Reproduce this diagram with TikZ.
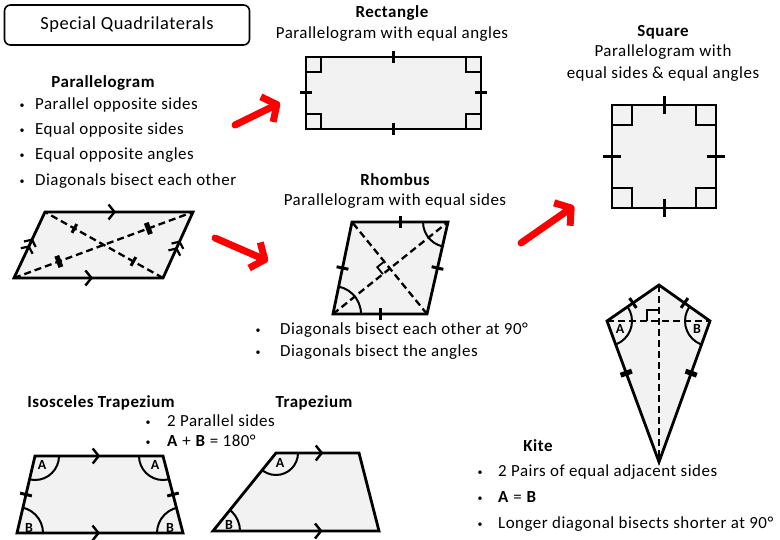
\documentclass[tikz,border=0pt]{standalone}
\usepackage{fontspec}
\setmainfont{Carlito}[LetterSpace=3]
\usetikzlibrary{arrows.meta,calc,decorations.markings}

\begin{document}
\begin{tikzpicture}[x=1bp, y=-1bp,
    txt/.style={font=\fontsize{17}{20}\selectfont, inner sep=0pt, anchor=base},
    head/.style={txt, font=\fontsize{17}{20}\selectfont\bfseries},
    bulletline/.style={txt, anchor=base west,
                       execute at begin node={\makebox[#1][l]{\raisebox{1bp}{\fontsize{10}{12}\selectfont\textbullet}}}},
    bulletline/.default=16bp,
    quad/.style={draw, line width=2.8bp, fill=black!5, line join=miter},
    diag/.style={line width=2.3bp, dash pattern=on 7bp off 4bp},
    arcline/.style={line width=2bp},
    rightang/.style={line width=2.4bp},
    lbl/.style={font=\fontsize{14}{16}\selectfont\bfseries, inner sep=0pt},
    tickmark/.style={postaction={decorate, decoration={markings,
        mark=at position .5 with {\draw[line width=3bp] (0,-#1) -- (0,#1);}}}},
    tickmark/.default=6bp,
    dbltick/.style={postaction={decorate, decoration={markings,
        mark=at position #1 with {\draw[line width=2.4bp]
          (-1.3bp,-6bp) -- (-1.3bp,6bp) (1.3bp,-6bp) -- (1.3bp,6bp);}}}},
    dbltick/.default=.5,
    parmark/.style={postaction={decorate, decoration={markings,
        mark=at position #1 with {\arrow[line width=2.4bp]{Straight Barb[length=6bp,width=15bp]}}}}},
    dblpar/.style={postaction={decorate, decoration={markings,
        mark=at position #1 with {\arrow[line width=2.2bp]{Straight Barb[length=5bp,width=13bp]Straight Barb[length=5bp,width=13bp]}}}}},
    redarrow/.style={draw=red, line width=7bp, line cap=round,
                     -{Straight Barb[length=11bp,width=28bp,line join=round]}}
  ]
  \useasboundingbox (0,0) rectangle (780,540);

  % title
  \node[draw, rounded corners=6bp, line width=1.6bp, minimum width=245bp,
        minimum height=40bp, font=\fontsize{18.5}{22}\selectfont] (title) at (127,25)
        {Special Quadrilaterals};

  % parallelogram
  \node[head] (parhead) at (103,88) {Parallelogram};
  \node[bulletline=15.5bp] (par1) at (19.5,110) {Parallel opposite sides};
  \node[bulletline=15.5bp] (par2) at (19.5,135) {Equal opposite sides};
  \node[bulletline=15.5bp] (par3) at (19.5,160) {Equal opposite angles};
  \node[bulletline=15.5bp] (par4) at (19.5,186) {Diagonals bisect each other};

  \coordinate (pA) at (14,278);
  \coordinate (pB) at (163,278);
  \coordinate (pC) at (193,212);
  \coordinate (pD) at (45,212);
  \draw[quad] (pA) -- (pB) -- (pC) -- (pD) -- cycle;
  \coordinate (pO) at (intersection of pA--pC and pB--pD);
  \draw[diag] (pA) -- (pC) (pB) -- (pD);
  \path[tickmark=5bp] (pD) -- (pO);
  \path[tickmark=5bp] (pO) -- (pB);
  \path[dbltick] (pA) -- (pO);
  \path[dbltick] (pO) -- (pC);
  \path[parmark=.48] (pD) -- (pC);
  \path[parmark=.53] (pA) -- (pB);
  \path[dblpar=.6] (pA) -- (pD);
  \path[dblpar=.57] (pB) -- (pC);

  % rectangle
  \node[head] (recthead) at (392,18) {Rectangle};
  \node[txt] (recttext) at (392,39) {Parallelogram with equal angles};
  \coordinate (rA) at (306,57);
  \coordinate (rB) at (481,57);
  \coordinate (rC) at (481,129);
  \coordinate (rD) at (306,129);
  \draw[quad] (rA) rectangle (rC);
  \foreach \c/\dx/\dy in {rA/15/15, rB/-15/15, rC/-15/-15, rD/15/-15}
    \draw[rightang] ($(\c)+(\dx,0)$) |- ($(\c)+(0,\dy)$);
  \foreach \a/\b in {rA/rB, rB/rC, rC/rD, rD/rA}
    \path[tickmark] (\a) -- (\b);

  % square
  \node[head] (sqhead) at (663,37) {Square};
  \node[txt] (sqtext1) at (663,57) {Parallelogram with};
  \node[txt] (sqtext2) at (663,79) {equal sides \& equal angles};
  \coordinate (sA) at (612,105);
  \coordinate (sB) at (716,105);
  \coordinate (sC) at (716,208);
  \coordinate (sD) at (612,208);
  \draw[quad] (sA) rectangle (sC);
  \foreach \c/\dx/\dy in {sA/20/20, sB/-20/20, sC/-20/-20, sD/20/-20}
    \draw[rightang] ($(\c)+(\dx,0)$) |- ($(\c)+(0,\dy)$);
  \foreach \a/\b in {sA/sB, sB/sC, sC/sD, sD/sA}
    \path[tickmark=9bp] (\a) -- (\b);

  % rhombus
  \node[head] (rhhead) at (395,186) {Rhombus};
  \node[txt] (rhtext) at (395,206) {Parallelogram with equal sides};
  \node[bulletline=24.5bp] (rh1) at (255.5,334) {Diagonals bisect each other at 90°};
  \node[bulletline=24.5bp] (rh2) at (255.5,356) {Diagonals bisect the angles};
  \coordinate (hA) at (333,314);
  \coordinate (hB) at (427,314);
  \coordinate (hC) at (448,222);
  \coordinate (hD) at (352,222);
  \draw[quad] (hA) -- (hB) -- (hC) -- (hD) -- cycle;
  \begin{scope}
    \clip (hA) -- (hB) -- (hC) -- (hD) -- cycle;
    \draw[arcline] (hA) circle[radius=28bp] (hC) circle[radius=25bp];
  \end{scope}
  \draw[diag] (hA) -- (hC) (hB) -- (hD);
  \coordinate (hO) at (intersection of hA--hC and hB--hD);
  \coordinate (h1) at ($(hO)!9bp!(hD)$);
  \coordinate (h2) at ($(hO)!9bp!(hA)$);
  \draw[line width=1.8bp] (h1) -- ($(h1)+(h2)-(hO)$) -- (h2);
  \foreach \a/\b in {hA/hB, hB/hC, hC/hD, hD/hA}
    \path[tickmark] (\a) -- (\b);

  % kite
  \node[head] (kitehead) at (538,451) {Kite};
  \node[bulletline=20.5bp] (kite1) at (477.5,476) {2 Pairs of equal adjacent sides};
  \node[bulletline=20.5bp] (kite2) at (477.5,502) {\textbf{A} = \textbf{B}};
  \node[bulletline=20.5bp] (kite3) at (477.5,528) {Longer diagonal bisects shorter at 90°};
  \coordinate (kT) at (659,285);
  \coordinate (kL) at (607,321);
  \coordinate (kR) at (710,321);
  \coordinate (kB) at (659,462);
  \draw[quad] (kT) -- (kR) -- (kB) -- (kL) -- cycle;
  \begin{scope}
    \clip (kT) -- (kR) -- (kB) -- (kL) -- cycle;
    \draw[arcline] (kL) circle[radius=25bp] (kR) circle[radius=25bp];
  \end{scope}
  \draw[diag] (kT) -- (kB) (kL) -- (kR);
  \coordinate (kO) at (intersection of kT--kB and kL--kR);
  \draw[line width=1.8bp] ($(kO)+(-12,0)$) |- ($(kO)+(0,-11)$);
  \path[tickmark] (kL) -- (kT);
  \path[tickmark] (kT) -- (kR);
  \path[dbltick=.37] (kL) -- (kB);
  \path[dbltick=.37] (kR) -- (kB);
  \node[lbl] (kA) at (620,329) {A};
  \node[lbl] (kBl) at (697,329) {B};

  % isosceles trapezium
  \node[head] (isohead) at (101,407) {Isosceles Trapezium};
  \node[head] (traphead) at (314,407) {Trapezium};
  \node[bulletline=21.5bp] (iso1) at (145.5,426) {2 Parallel sides};
  \node[bulletline=21.5bp] (iso2) at (145.5,446) {\textbf{A} + \textbf{B} = 180°};
  \coordinate (tA) at (17,533);
  \coordinate (tB) at (183,533);
  \coordinate (tC) at (163,456);
  \coordinate (tD) at (35,456);
  \draw[quad] (tA) -- (tB) -- (tC) -- (tD) -- cycle;
  \begin{scope}
    \clip (tA) -- (tB) -- (tC) -- (tD) -- cycle;
    \draw[arcline] (tA) circle[radius=26bp] (tB) circle[radius=26bp]
                   (tC) circle[radius=24bp] (tD) circle[radius=24bp];
  \end{scope}
  \path[tickmark] (tA) -- (tD);
  \path[tickmark] (tB) -- (tC);
  \path[parmark=.51] (tD) -- (tC);
  \path[parmark=.5] (tA) -- (tB);
  \node[lbl] (tAlbl) at (42,465) {A};
  \node[lbl] (tBlbl) at (155,465) {A};
  \node[lbl] (tClbl) at (29,528) {B};
  \node[lbl] (tDlbl) at (170,528) {B};

  % trapezium
  \coordinate (zA) at (213,531);
  \coordinate (zB) at (379,531);
  \coordinate (zC) at (359,453);
  \coordinate (zD) at (276,453);
  \draw[quad] (zA) -- (zB) -- (zC) -- (zD) -- cycle;
  \begin{scope}
    \clip (zA) -- (zB) -- (zC) -- (zD) -- cycle;
    \draw[arcline] (zD) circle[radius=22bp] (zA) circle[radius=27bp];
  \end{scope}
  \path[parmark=.57] (zD) -- (zC);
  \path[parmark=.66] (zA) -- (zB);
  \node[lbl] (zAlbl) at (280,463) {A};
  \node[lbl] (zBlbl) at (229,525) {B};

  % red arrows
  \coordinate (ar1s) at (235,125);
  \coordinate (ar1e) at (280,103);
  \coordinate (ar2s) at (215,238);
  \coordinate (ar2e) at (268,261);
  \coordinate (ar3s) at (521,243);
  \coordinate (ar3e) at (574,206);
  \foreach \s/\e in {ar1s/ar1e, ar2s/ar2e, ar3s/ar3e}
    \draw[redarrow] (\s) -- (\e);
\end{tikzpicture}
\end{document}
